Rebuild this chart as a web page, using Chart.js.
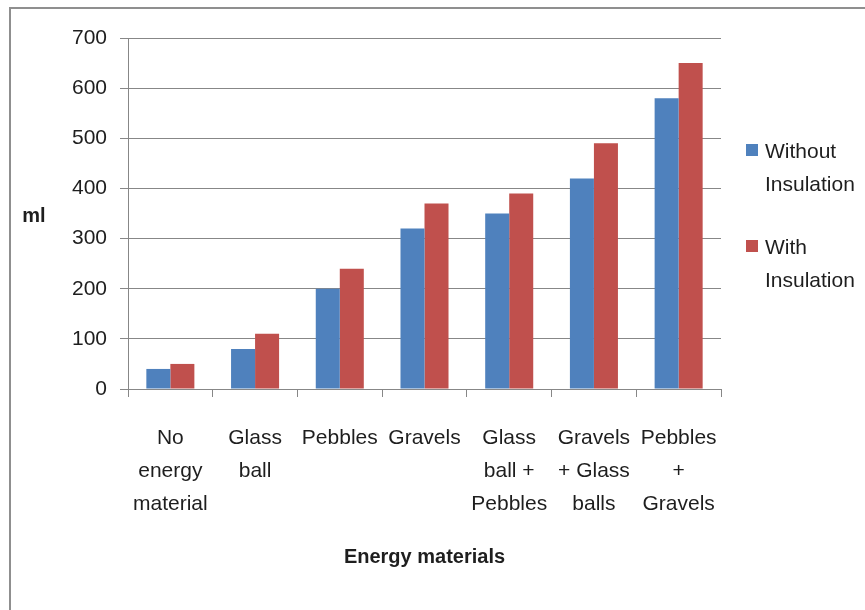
<!DOCTYPE html>
<html>
<head>
<meta charset="utf-8">
<script src="https://cdn.jsdelivr.net/npm/chart.js@4/dist/chart.umd.min.js"></script>
<style>
  html, body { margin: 0; padding: 0; background: #fff; }
  #wrap { position: relative; width: 865px; height: 610px; }
</style>
</head>
<body>
<div id="wrap"><canvas id="c" width="865" height="610"></canvas></div>
<script>
// Category labels, one array of lines per category
const categories = [
  ["No", "energy", "material"],
  ["Glass", "ball"],
  ["Pebbles"],
  ["Gravels"],
  ["Glass", "ball +", "Pebbles"],
  ["Gravels", "+ Glass", "balls"],
  ["Pebbles", "+", "Gravels"]
];
const seriesNames = ["Without Insulation", "With Insulation"];
const withoutInsulation = [40, 80, 200, 320, 350, 420, 580];
const withInsulation = [50, 110, 240, 370, 390, 490, 650];
const yTicks = [0, 100, 200, 300, 400, 500, 600, 700];
const xTitle = "Energy materials";
const yTitle = "ml";

const BLUE = "#4F81BD";
const RED = "#C0504D";
const GRID = "#878787";
const TEXT = "#1e1e1e";
const FONT = "'Liberation Sans', Arial, sans-serif";

// Outer frame, axis titles and the right-hand legend
const decorations = {
  id: "decorations",
  beforeDraw(chart) {
    const ctx = chart.ctx;
    ctx.save();
    ctx.fillStyle = "#fff";
    ctx.fillRect(0, 0, chart.width, chart.height);
    ctx.strokeStyle = "#8f8f8f";
    ctx.lineWidth = 2;
    ctx.beginPath();
    ctx.moveTo(10, chart.height + 2);
    ctx.lineTo(10, 8);
    ctx.lineTo(chart.width + 2, 8);
    ctx.stroke();
    ctx.restore();
  },
  afterDraw(chart) {
    const ctx = chart.ctx;
    const area = chart.chartArea;
    ctx.save();
    ctx.fillStyle = TEXT;
    ctx.font = "bold 20px " + FONT;
    ctx.textBaseline = "middle";
    ctx.textAlign = "center";
    ctx.fillText(yTitle, 34, (area.top + area.bottom) / 2 + 3);
    ctx.fillText(xTitle, (area.left + area.right) / 2, 557);

    // legend
    ctx.font = "21px " + FONT;
    ctx.textAlign = "left";
    const lineH = 33.5;
    const itemGap = 96;
    const startY = 152;
    chart.data.datasets.forEach((ds, i) => {
      const y0 = startY + i * itemGap;
      ctx.fillStyle = ds.backgroundColor;
      ctx.fillRect(746, y0 - 8, 12, 12);
      ctx.fillStyle = TEXT;
      ds.label.split(" ").forEach((line, j) => {
        ctx.fillText(line, 765, y0 + j * lineH);
      });
    });
    ctx.restore();
  }
};

new Chart(document.getElementById("c"), {
  type: "bar",
  data: {
    labels: categories,
    datasets: [
      { label: seriesNames[0], data: withoutInsulation, backgroundColor: BLUE },
      { label: seriesNames[1], data: withInsulation, backgroundColor: RED }
    ]
  },
  options: {
    responsive: false,
    animation: false,
    devicePixelRatio: 1,
    layout: { padding: { top: 38, right: 144, left: 0, bottom: 0 } },
    datasets: { bar: { barPercentage: 1, categoryPercentage: 0.567 } },
    plugins: {
      legend: { display: false },
      tooltip: { enabled: false },
      title: { display: false }
    },
    scales: {
      x: {
        offset: true,
        grid: { display: true, drawOnChartArea: false, offset: true, color: GRID, tickLength: 8 },
        border: { display: true, color: GRID, width: 1 },
        ticks: {
          autoSkip: false, maxRotation: 0, minRotation: 0, padding: 25,
          color: TEXT, font: { family: FONT, size: 21, lineHeight: 1.57 }
        },
        afterFit(scale) { scale.height = 221; }
      },
      y: {
        min: 0, max: 700,
        afterBuildTicks(scale) { scale.ticks = yTicks.map(v => ({ value: v })); },
        grid: { color: GRID, tickLength: 8 },
        border: { display: true, color: GRID, width: 1 },
        ticks: { padding: 13, color: TEXT, font: { family: FONT, size: 21 } },
        afterFit(scale) { scale.width = 128; }
      }
    }
  },
  plugins: [decorations]
});
</script>
</body>
</html>
